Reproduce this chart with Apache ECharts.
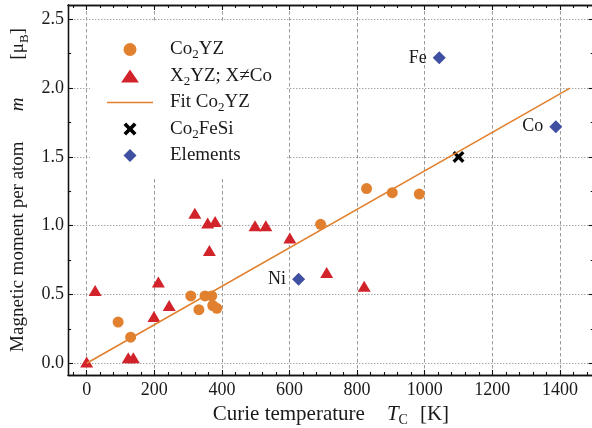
<!DOCTYPE html>
<html>
<head>
<meta charset="utf-8">
<script src="https://cdn.jsdelivr.net/npm/echarts@6/dist/echarts.min.js"></script>
<style>
  html, body { margin: 0; padding: 0; background: #fff; }
  #chart { width: 592px; height: 428px; }
</style>
</head>
<body>
<div id="chart"></div>
<script>
// Curie temperature (K) and magnetic moment per atom (μB)
const tcCo2YZ = [93, 130, 308, 332, 350, 370, 373, 385, 692, 828, 904, 984];
const mCo2YZ  = [0.30, 0.19, 0.49, 0.39, 0.49, 0.49, 0.42, 0.40, 1.01, 1.27, 1.24, 1.23];

const tcX2YZ = [0, 25, 123, 138, 199, 212, 244, 320, 358, 363, 380, 498, 530, 601, 710, 821];
const mX2YZ  = [0.01, 0.53, 0.04, 0.04, 0.34, 0.59, 0.42, 1.09, 1.02, 0.82, 1.03, 1.00, 1.00, 0.91, 0.66, 0.56];

const tcFit = [0, 1430];
const mFit  = [0.0, 2.0];

const tcCo2FeSi = [1100];
const mCo2FeSi  = [1.5];

const elementNames = ['Fe', 'Co', 'Ni'];
const tcElements   = [1043, 1388, 627];
const mElements    = [2.22, 1.72, 0.61];

// Axis ticks
const xMajorTicks = [0, 200, 400, 600, 800, 1000, 1200, 1400];
const xMinorTicks = [-40, 40, 80, 120, 160, 240, 280, 320, 360, 440, 480, 520, 560,
  640, 680, 720, 760, 840, 880, 920, 960, 1040, 1080, 1120, 1160,
  1240, 1280, 1320, 1360, 1440, 1480];
const yMajorTicks = [0, 0.5, 1.0, 1.5, 2.0, 2.5];
const yMinorTicks = [0.25, 0.75, 1.25, 1.75, 2.25];

const X_MIN = -55, X_MAX = 1500;
const Y_MIN = -0.085, Y_MAX = 2.604;

const SERIF = "'Liberation Serif', 'Times New Roman', serif";
const ORANGE = '#E1812F';
const RED = '#D2232B';
const BLUE = '#3F4FA1';

const zip = (a, b) => a.map((v, i) => [v, b[i]]);

const legendRich = {
  g: { width: 12 },
  n: { fontFamily: SERIF, fontSize: 19, color: '#1a1a1a', lineHeight: 24 },
  s: { fontFamily: SERIF, fontSize: 13, color: '#1a1a1a', lineHeight: 10, verticalAlign: 'bottom' }
};
const legendText = {
  'Co2YZ': '{g| }{n|Co}{s|2}{n|YZ}',
  'X2YZ; X≠Co': '{g| }{n|X}{s|2}{n|YZ; X≠Co}',
  'Fit Co2YZ': '{g| }{n|Fit Co}{s|2}{n|YZ}',
  'Co2FeSi': '{g| }{n|Co}{s|2}{n|FeSi}',
  'Elements': '{g| }{n|Elements}'
};

const CROSS = 'path://M2.4,0 L6,3.6 L9.6,0 L12,2.4 L8.4,6 L12,9.6 L9.6,12 L6,8.4 L2.4,12 L0,9.6 L3.6,6 L0,2.4 Z';
const TRI = 'path://M0,11 L7.5,0 L15,11 Z';
const DIA = 'path://M6,0 L12,6 L6,12 L0,6 Z';
const DASH = 'path://M0,0 L46,0 L46,1.6 L0,1.6 Z';

function titleRich(size, subSize, gap1, gap2) {
  return {
    r: { fontFamily: SERIF, fontSize: size, color: '#1a1a1a', lineHeight: 26 },
    i: { fontFamily: SERIF, fontSize: size, fontStyle: 'italic', color: '#1a1a1a', lineHeight: 26 },
    s: { fontFamily: SERIF, fontSize: subSize, color: '#1a1a1a', lineHeight: 10, verticalAlign: 'bottom' },
    w1: { width: gap1 },
    w2: { width: gap2 }
  };
}

function xAxisDef(pos, ticks, len, main) {
  return {
    type: 'value', position: pos, min: X_MIN, max: X_MAX, splitNumber: 8,
    axisLine: { show: true, onZero: false, lineStyle: { color: '#111', width: 1.3 } },
    axisTick: { show: true, inside: true, length: len, customValues: ticks, lineStyle: { color: '#111', width: 1.1 } },
    axisLabel: main ? { show: true, customValues: ticks, margin: 6, fontFamily: SERIF, fontSize: 18, color: '#1a1a1a',
      formatter: v => String(v) } : { show: false },
    splitLine: main ? { show: true, lineStyle: { color: '#9a9a9a', width: 1, type: [3.5, 2.5] } } : { show: false },
    minorTick: { show: false },
    name: main ? '{r|Curie temperature}{w1| }{i|T}{s|C}{w2| }{r|[K]}' : '',
    nameLocation: 'middle', nameGap: 23,
    nameTextStyle: { rich: titleRich(21, 14, 22, 12) }
  };
}

function yAxisDef(pos, ticks, len, main) {
  return {
    type: 'value', position: pos, min: Y_MIN, max: Y_MAX, splitNumber: 5,
    axisLine: { show: true, onZero: false, lineStyle: { color: '#111', width: 1.3 } },
    axisTick: { show: true, inside: true, length: len, customValues: ticks, lineStyle: { color: '#111', width: 1.1 } },
    axisLabel: main ? { show: true, customValues: ticks, margin: 4, fontFamily: SERIF, fontSize: 18, color: '#1a1a1a',
      formatter: v => v.toFixed(1) } : { show: false },
    splitLine: main ? { show: true, lineStyle: { color: '#9a9a9a', width: 1, type: [1.3, 1.7] } } : { show: false },
    minorTick: { show: false },
    name: main ? '{r|Magnetic moment per atom}{w1| }{i|m}{w2| }{r|[μ}{s|B}{r|]}' : '',
    nameLocation: 'middle', nameGap: 33, nameRotate: 90,
    nameTextStyle: { rich: titleRich(19, 13, 30, 38) }
  };
}

const chart = echarts.init(document.getElementById('chart'), null, { renderer: 'canvas' });

chart.setOption({
  animation: false,
  backgroundColor: '#fff',
  grid: { left: 68.1, top: 5, width: 525.6, height: 370, containLabel: false, outerBoundsMode: 'none' },
  xAxis: [
    xAxisDef('bottom', xMajorTicks, 5, true),
    xAxisDef('bottom', xMinorTicks, 3, false),
    xAxisDef('top', xMajorTicks, 5, false),
    xAxisDef('top', xMinorTicks, 3, false)
  ],
  yAxis: [
    yAxisDef('left', yMajorTicks, 5, true),
    yAxisDef('left', yMinorTicks, 3, false),
    yAxisDef('right', yMajorTicks, 5, false),
    yAxisDef('right', yMinorTicks, 3, false)
  ],
  legend: {
    orient: 'vertical',
    left: 90, top: 21,
    padding: [19, 14, 12, 17],
    backgroundColor: '#fff',
    itemWidth: 46, itemHeight: 13, itemGap: 5,
    selectedMode: false,
    textStyle: { rich: legendRich },
    formatter: name => legendText[name] || name,
    data: [
      { name: 'Co2YZ', icon: 'circle' },
      { name: 'X2YZ; X≠Co', icon: TRI },
      { name: 'Fit Co2YZ', icon: DASH },
      { name: 'Co2FeSi', icon: CROSS },
      { name: 'Elements', icon: DIA }
    ]
  },
  series: [
    {
      name: 'Co2YZ', type: 'scatter',
      data: zip(tcCo2YZ, mCo2YZ),
      symbol: 'circle', symbolSize: 11,
      itemStyle: { color: ORANGE, opacity: 1 }
    },
    {
      name: 'X2YZ; X≠Co', type: 'scatter',
      data: zip(tcX2YZ, mX2YZ),
      symbol: 'triangle', symbolSize: [13, 11],
      itemStyle: { color: RED, opacity: 1 }
    },
    {
      name: 'Fit Co2YZ', type: 'line',
      data: zip(tcFit, mFit),
      symbol: 'none',
      lineStyle: { color: ORANGE, width: 1.6 },
      itemStyle: { color: ORANGE }
    },
    {
      name: 'Co2FeSi', type: 'scatter',
      data: zip(tcCo2FeSi, mCo2FeSi),
      symbol: CROSS, symbolSize: 12,
      itemStyle: { color: '#000', opacity: 1 }
    },
    {
      name: 'Elements', type: 'scatter',
      data: tcElements.map((t, i) => ({ name: elementNames[i], value: [t, mElements[i]] })),
      symbol: 'diamond', symbolSize: 13,
      itemStyle: { color: BLUE, opacity: 1 },
      label: {
        show: true, position: 'left', distance: 6,
        formatter: p => p.name,
        fontFamily: SERIF, fontSize: 18, color: '#1a1a1a'
      }
    }
  ]
});
</script>
</body>
</html>
